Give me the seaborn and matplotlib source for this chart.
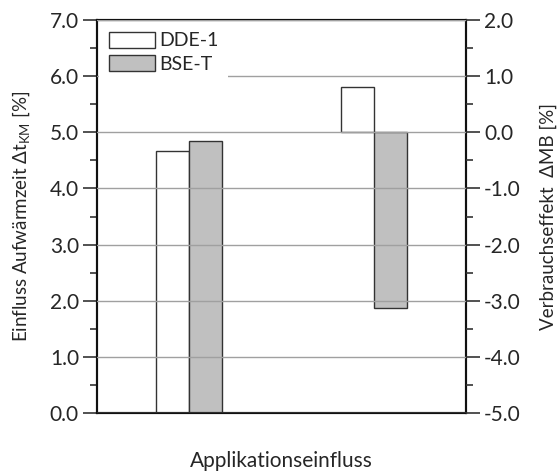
import matplotlib
matplotlib.use("Agg")
import matplotlib.pyplot as plt
import seaborn as sns
import pandas as pd
from matplotlib.ticker import MultipleLocator

# --- data ---
groups = ["Aufwärmzeit", "Verbrauch"]
series = ["DDE-1", "BSE-T"]
left_values = [4.67, 4.85]     # group 1, left axis [%]
right_values = [0.80, -3.13]   # group 2, right axis [%]
left_ticks = [0.0, 1.0, 2.0, 3.0, 4.0, 5.0, 6.0, 7.0]
right_ticks = [-5.0, -4.0, -3.0, -2.0, -1.0, 0.0, 1.0, 2.0]

sns.set_style("ticks")
plt.rcParams["font.family"] = ["Lato", "DejaVu Sans"]
plt.rcParams["mathtext.default"] = "regular"

df_left = pd.DataFrame({"group": [groups[0]] * 2, "series": series, "value": left_values})
df_right = pd.DataFrame({"group": [groups[1]] * 2, "series": series, "value": right_values})

palette = {series[0]: "white", series[1]: "#c0c0c0"}

fig = plt.figure(figsize=(5.59, 4.73), dpi=100)
ax = fig.add_axes([0.1735, 0.1268, 0.6601, 0.8309])
ax2 = ax.twinx()

sns.barplot(data=df_left, x="group", y="value", hue="series", order=groups,
            hue_order=series, palette=palette, edgecolor="#333333", linewidth=1.0,
            width=0.36, errorbar=None, ax=ax)
handles, labels = ax.get_legend_handles_labels()
if ax.get_legend() is not None:
    ax.get_legend().remove()

sns.barplot(data=df_right, x="group", y="value", hue="series", order=groups,
            hue_order=series, palette=palette, edgecolor="#333333", linewidth=1.0,
            width=0.36, errorbar=None, ax=ax2, legend=False)

ax.set_ylim(0, 7)
ax2.set_ylim(-5, 2)
ax.set_xlim(-0.5, 1.5)
ax.set_yticks(left_ticks)
ax.set_yticklabels([f"{v:.1f}" for v in left_ticks])
ax2.set_yticks(right_ticks)
ax2.set_yticklabels([f"{v:.1f}" for v in right_ticks])
ax.yaxis.set_minor_locator(MultipleLocator(0.5))
ax2.yaxis.set_minor_locator(MultipleLocator(0.5))
ax.set_xticks([])
ax2.set_xticks([])

for a in (ax, ax2):
    a.tick_params(axis="y", which="major", direction="out", length=10, width=1.2,
                  labelsize=15, pad=3, color="#333333")
    a.tick_params(axis="y", which="minor", direction="out", length=5, width=1.2,
                  color="#333333")
    for s in a.spines.values():
        s.set_linewidth(1.5)
        s.set_color("#111111")

# gridlines drawn over bars
ax2.set_axisbelow(False)
ax2.yaxis.grid(True, which="major", color="#a0a0a0", linewidth=1.0)

ax.set_xlabel("Applikationseinfluss", fontsize=15, labelpad=27)
ax.set_ylabel("Einfluss Aufwärmzeit Δt$_{KM}$ [%]", fontsize=13.5)
ax2.set_ylabel("Verbrauchseffekt  ΔMB [%]", fontsize=13.5, rotation=90)
ax.yaxis.set_label_coords(-0.176, 0.5)
ax2.yaxis.set_label_coords(1.2, 0.5)

leg = ax2.legend(handles, labels, loc="upper left", fontsize=14, frameon=True,
                 framealpha=1, facecolor="white", edgecolor="none",
                 handlelength=2.4, handleheight=0.9, handletextpad=0.2,
                 labelspacing=0.3, borderaxespad=0.1, borderpad=0.5)
leg.set_zorder(10)

fig.savefig("out.png", dpi=100)
